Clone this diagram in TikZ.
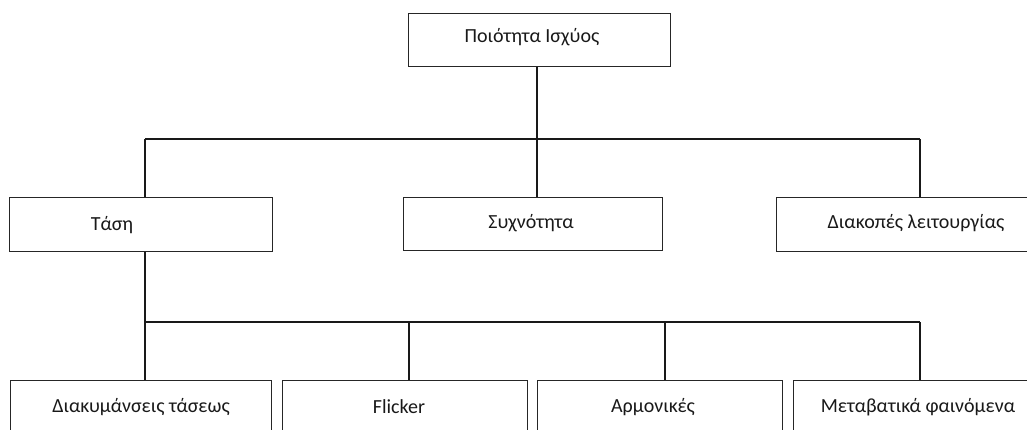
\documentclass[tikz,border=0pt]{standalone}
\usepackage{fontspec}
\setmainfont{Carlito}
\begin{document}
\begin{tikzpicture}[x=1pt,y=-1pt,
  box/.style={draw=black!85, line width=1.3pt, rectangle, inner sep=0pt, anchor=north west},
  lbl/.style={inner sep=0pt, font=\fontsize{20}{22}\selectfont, text=black!90},
  wire/.style={draw=black!90, line width=1.2pt}]
\clip (0,0) rectangle (1027,429);
\fill[white] (0,0) rectangle (1027,429);

% level 0
\node[box, minimum width=262pt, minimum height=53pt] (top) at (408,13) {};
% level 1
\node[box, minimum width=263pt, minimum height=54pt] (tasi) at (9,197) {};
\node[box, minimum width=259pt, minimum height=53pt] (freq) at (403,197) {};
\node[box, minimum width=280pt, minimum height=54pt] (intr) at (776,197) {};
% level 2
\node[box, minimum width=261pt, minimum height=60pt] (vari) at (10,380) {};
\node[box, minimum width=245pt, minimum height=60pt] (flick) at (282,380) {};
\node[box, minimum width=245pt, minimum height=60pt] (harm) at (537,380) {};
\node[box, minimum width=262pt, minimum height=60pt] (trans) at (793,380) {};

% labels
\node[lbl] (tTop) at (532,37) {Ποιότητα Ισχύος};
\node[lbl] (tTasi) at (112,225) {Τάση};
\node[lbl] (tFreq) at (531,223) {Συχνότητα};
\node[lbl] (tIntr) at (916,223) {Διακοπές λειτουργίας};
\node[lbl] (tVari) at (141,407) {Διακυμάνσεις τάσεως};
\node[lbl] (tFlick) at (399,407) {Flicker};
\node[lbl] (tHarm) at (653,407) {Αρμονικές};
\node[lbl] (tTrans) at (918,407) {Μεταβατικά φαινόμενα};

% junction points on the two buses
\coordinate (b1L) at (145,139);
\coordinate (b1M) at (537,139);
\coordinate (b1R) at (920,139);
\coordinate (b2L) at (145,322);
\coordinate (b2A) at (409,322);
\coordinate (b2B) at (665,322);
\coordinate (b2R) at (920,322);

% connectors
\draw[wire] (top.south -| b1M) -- (b1M);
\draw[wire] (b1L) -- (b1R);
\draw[wire] (b1L) -- (tasi.north -| b1L);
\draw[wire] (b1M) -- (freq.north -| b1M);
\draw[wire] (b1R) -- (intr.north -| b1R);
\draw[wire] (tasi.south -| b2L) -- (b2L);
\draw[wire] (b2L) -- (b2R);
\draw[wire] (b2L) -- (vari.north -| b2L);
\draw[wire] (b2A) -- (flick.north -| b2A);
\draw[wire] (b2B) -- (harm.north -| b2B);
\draw[wire] (b2R) -- (trans.north -| b2R);
\end{tikzpicture}
\end{document}
